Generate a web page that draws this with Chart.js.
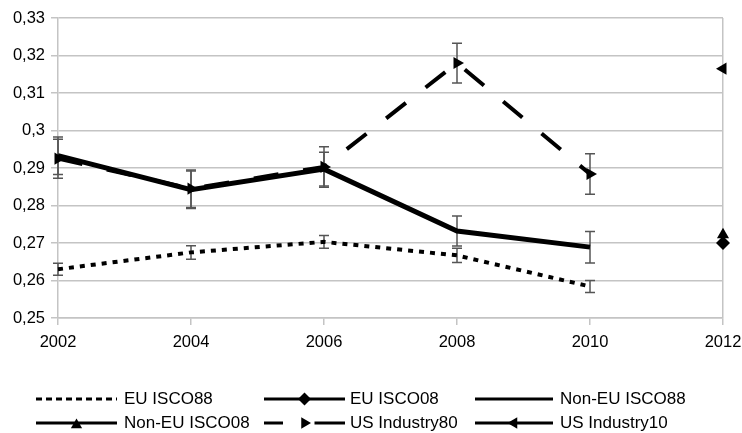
<!DOCTYPE html>
<html>
<head>
<meta charset="utf-8">
<script src="https://cdn.jsdelivr.net/npm/chart.js@4"></script>
<style>
  html, body { margin: 0; padding: 0; background: #fff; }
  #wrap { width: 742px; height: 433px; }
</style>
</head>
<body>
<div id="wrap"><canvas id="chart" width="742" height="433"></canvas></div>
<script>
// Data
const years = [2002, 2004, 2006, 2008, 2010, 2012];
const yTicks = [0.25, 0.26, 0.27, 0.28, 0.29, 0.30, 0.31, 0.32, 0.33];

const euIsco88 = [0.2630, 0.2675, 0.2703, 0.2667, 0.2584, null];
const euIsco88Err = [0.0016, 0.0018, 0.0017, 0.0019, 0.0016, null];
const euIsco08 = [null, null, null, null, null, 0.2700];
const nonEuIsco88 = [0.2933, 0.2842, 0.2897, 0.2732, 0.2689, null];
const nonEuIsco88Err = [0.0050, 0.0050, 0.0045, 0.0040, 0.0042, null];
const nonEuIsco08 = [null, null, null, null, null, 0.2722];
const usIndustry80 = [0.2925, 0.2845, 0.2903, 0.3180, 0.2884, null];
const usIndustry80Err = [0.0052, 0.0050, 0.0054, 0.0053, 0.0054, null];
const usIndustry10 = [null, null, null, null, null, 0.3165];

const FONT = '"Liberation Sans", Arial, sans-serif';
const GRID = '#c4c4c4';

const toPts = arr => years.map((x, i) => ({ x: x, y: arr[i] }));
const fmt = v => String(Math.round(v * 100) / 100).replace('.', ',');

const datasets = [
    { label: 'EU ISCO88', data: toPts(euIsco88), err: euIsco88Err,
      borderColor: '#000', borderWidth: 4, borderDash: [5, 6], pointRadius: 0,
      legendDash: [6, 4] },
    { label: 'EU ISCO08', data: toPts(euIsco08),
      borderColor: '#000', backgroundColor: '#000', borderWidth: 4,
      pointStyle: 'rectRot', pointRadius: 7, pointBorderWidth: 0 },
    { label: 'Non-EU ISCO88', data: toPts(nonEuIsco88), err: nonEuIsco88Err,
      borderColor: '#000', borderWidth: 5, pointRadius: 0 },
    { label: 'Non-EU ISCO08', data: toPts(nonEuIsco08),
      borderColor: '#000', backgroundColor: '#000', borderWidth: 4,
      pointStyle: 'triangle', pointRadius: 7, pointBorderWidth: 0 },
    { label: 'US Industry80', data: toPts(usIndustry80), err: usIndustry80Err,
      borderColor: '#000', backgroundColor: '#000', borderWidth: 4, borderDash: [25, 25],
      pointStyle: 'triangle', rotation: 90, pointRadius: 7, pointBorderWidth: 0,
      legendGap: true },
    { label: 'US Industry10', data: toPts(usIndustry10),
      borderColor: '#000', backgroundColor: '#000', borderWidth: 4,
      pointStyle: 'triangle', rotation: -90, pointRadius: 7, pointBorderWidth: 0 }
];
datasets.forEach(d => { d.clip = false; d.tension = 0; d.spanGaps = false; d.borderCapStyle = 'butt'; });

// error bars, drawn under the lines
const errorBars = {
    id: 'errorBars',
    beforeDatasetsDraw(chart) {
        const ctx = chart.ctx;
        const xs = chart.scales.x, ys = chart.scales.y;
        ctx.save();
        ctx.strokeStyle = '#555';
        ctx.lineWidth = 1.5;
        chart.data.datasets.forEach(ds => {
            if (!ds.err) return;
            ds.data.forEach((p, i) => {
                const e = ds.err[i];
                if (p.y == null || e == null) return;
                const x = xs.getPixelForValue(p.x);
                const yt = ys.getPixelForValue(p.y + e);
                const yb = ys.getPixelForValue(p.y - e);
                ctx.beginPath();
                ctx.moveTo(x, yt); ctx.lineTo(x, yb);
                ctx.moveTo(x - 5, yt); ctx.lineTo(x + 5, yt);
                ctx.moveTo(x - 5, yb); ctx.lineTo(x + 5, yb);
                ctx.stroke();
            });
        });
        ctx.restore();
    }
};

// two-row legend like the original
const legendRows = {
    id: 'legendRows',
    afterDraw(chart) {
        const ctx = chart.ctx;
        const cols = [{ x0: 36, x1: 117, tx: 124 }, { x0: 264, x1: 345, tx: 350 }, { x0: 475, x1: 553, tx: 560 }];
        const rows = [399, 423];
        ctx.save();
        ctx.font = '17px ' + FONT;
        ctx.textBaseline = 'middle';
        chart.data.datasets.forEach((ds, i) => {
            const c = cols[i % 3], y = rows[Math.floor(i / 3)];
            const mx = (c.x0 + c.x1) / 2;
            ctx.strokeStyle = '#000';
            ctx.fillStyle = '#000';
            ctx.lineWidth = 3;
            ctx.setLineDash(ds.legendDash || []);
            ctx.beginPath();
            if (ds.legendGap) {
                ctx.moveTo(c.x0, y); ctx.lineTo(c.x0 + 19, y);
                ctx.moveTo(mx + 10, y); ctx.lineTo(c.x1, y);
            } else {
                ctx.moveTo(c.x0, y); ctx.lineTo(c.x1, y);
            }
            ctx.stroke();
            ctx.setLineDash([]);
            if (ds.pointRadius > 0) {
                const up = ds.pointStyle === 'triangle' && !ds.rotation;
                Chart.helpers.drawPoint(ctx, { pointStyle: ds.pointStyle, rotation: ds.rotation || 0,
                    radius: 6.5, borderWidth: 0 }, mx, y + (up ? 2 : 0));
            }
            ctx.fillText(ds.label, c.tx, y);
        });
        ctx.restore();
    }
};

new Chart(document.getElementById('chart'), {
    type: 'line',
    data: { datasets: datasets },
    options: {
        responsive: false,
        animation: false,
        layout: { padding: { top: 18, right: 0, left: 0, bottom: 0 } },
        plugins: { legend: { display: false }, tooltip: { enabled: false } },
        scales: {
            x: {
                type: 'linear', min: 2002, max: 2012,
                afterBuildTicks: s => { s.ticks = years.map(v => ({ value: v })); },
                afterFit: s => { s.height = 115; s.paddingRight = 19; s.paddingLeft = 0; },
                grid: {
                    drawOnChartArea: true,
                    color: c => (c.tick && c.tick.value === 2012) ? GRID : 'rgba(0,0,0,0)',
                    tickColor: GRID, tickLength: 7, lineWidth: 1.5
                },
                border: { color: GRID, width: 1.5 },
                ticks: { color: '#000', font: { family: FONT, size: 16.5 }, padding: 8, maxRotation: 0,
                         callback: v => String(v) }
            },
            y: {
                min: 0.25, max: 0.33,
                afterBuildTicks: s => { s.ticks = yTicks.map(v => ({ value: v })); },
                afterFit: s => { s.width = 58; },
                grid: { color: GRID, tickColor: GRID, tickLength: 7, lineWidth: 1.5 },
                border: { color: GRID, width: 1.5 },
                ticks: { color: '#000', font: { family: FONT, size: 16.5 }, padding: 6,
                         callback: v => fmt(v) }
            }
        }
    },
    plugins: [errorBars, legendRows]
});
</script>
</body>
</html>
